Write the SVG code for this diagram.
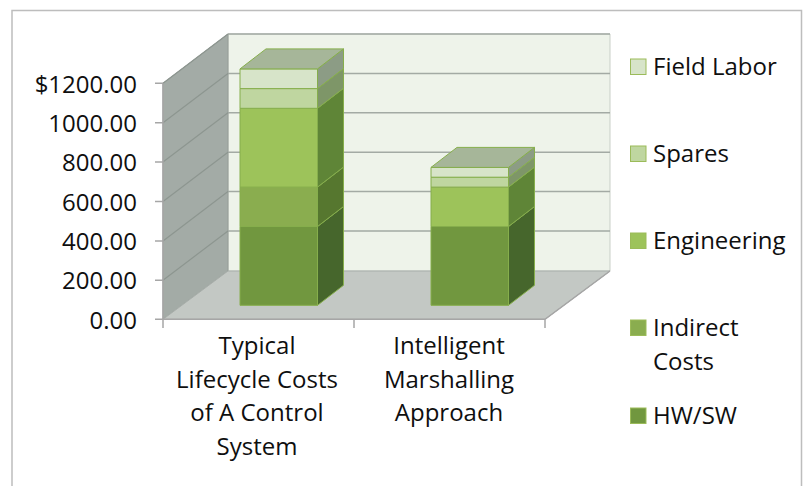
<svg xmlns="http://www.w3.org/2000/svg" width="803" height="486" viewBox="0 0 803 486">
<style>
text{font-family:"Open Sans","Noto Sans","Liberation Sans",sans-serif;font-size:24px;fill:#0f0f0f}
.ax{text-anchor:end}
.cat{text-anchor:middle}
.grid{stroke:#a3aaa4;stroke-width:1.5;fill:none}
.lgrid{stroke:#8d9690;stroke-width:1.2;fill:none}
.axis{stroke:#a6a6a6;stroke-width:1.5;fill:none}
.seg{stroke:#86ae4c;stroke-width:1;stroke-linejoin:round}
.hw{fill:#71973f}.hws{fill:#46662c}
.ind{fill:#8aad4f}.inds{fill:#56772f}
.eng{fill:#9dc35a}.engs{fill:#5f8537}
.spa{fill:#bfd6a0}.spas{fill:#7e9668}
.fld{fill:#d7e4c9}.flds{fill:#8c9c85}
.top{fill:#a6b699}
.key{stroke:#9bbb59;stroke-width:1}
</style>
<rect width="803" height="486" fill="#ffffff"/>
<path d="M12 486V10.5H801.5V486" fill="none" stroke="#bdbdbd" stroke-width="1.5"/>
<g id="plot-walls">
<polygon points="228,34 610,34 610,271 228,271" fill="#eef3ea" stroke="#c9cfc8" stroke-width="1"/>
<polygon points="163,83.3 228,34 228,271 163,319.3" fill="#a3aba6" stroke="#959d98" stroke-width="1"/>
<polygon points="163,319.3 228,271 610,271 545,319.3" fill="#c3c8c4" stroke="#a8aeaa" stroke-width="1"/>
</g>
<g id="gridlines">
<path class="grid" d="M228 34H610M228 73.4H610M228 112.8H610M228 152.2H610M228 191.6H610M228 231H610"/>
<path class="lgrid" d="M163 83.3L228 34M163 122.7L228 73.4M163 162.1L228 112.8M163 201.5L228 152.2M163 240.9L228 191.6M163 280.2L228 231"/>
</g>
<g id="axes">
<path class="axis" d="M163 83.3V319.3M155 83.3H163M155 122.7H163M155 162.1H163M155 201.5H163M155 240.9H163M155 280.2H163M155 319.3H545L610 271M163 319.3V328M354 319.3V328M545 319.3V328"/>
</g>
<g id="y-labels">
<text class="ax" x="137" y="92.5">$1200.00</text>
<text class="ax" x="137" y="131.9">1000.00</text>
<text class="ax" x="137" y="171.3">800.00</text>
<text class="ax" x="137" y="210.7">600.00</text>
<text class="ax" x="137" y="250.1">400.00</text>
<text class="ax" x="137" y="289.4">200.00</text>
<text class="ax" x="137" y="328.6">0.00</text>
</g>
<g id="bar-typical">
<g id="bar1-hwsw"><rect class="seg hw" x="240" y="226.5" width="77.5" height="78.8"/><polygon class="seg hws" points="317.5,226.5 343.5,206.5 343.5,285.3 317.5,305.3"/></g>
<g id="bar1-indirect"><rect class="seg ind" x="240" y="187.1" width="77.5" height="39.4"/><polygon class="seg inds" points="317.5,187.1 343.5,167.1 343.5,206.5 317.5,226.5"/></g>
<g id="bar1-engineering"><rect class="seg eng" x="240" y="108.3" width="77.5" height="78.8"/><polygon class="seg engs" points="317.5,108.3 343.5,88.3 343.5,167.1 317.5,187.1"/></g>
<g id="bar1-spares"><rect class="seg spa" x="240" y="88.6" width="77.5" height="19.7"/><polygon class="seg spas" points="317.5,88.6 343.5,68.6 343.5,88.3 317.5,108.3"/></g>
<g id="bar1-fieldlabor"><rect class="seg fld" x="240" y="68.9" width="77.5" height="19.7"/><polygon class="seg flds" points="317.5,68.9 343.5,48.9 343.5,68.6 317.5,88.6"/><polygon class="seg top" points="240,68.9 266,48.9 343.5,48.9 317.5,68.9"/></g>
</g>
<g id="bar-intelligent">
<g id="bar2-hwsw"><rect class="seg hw" x="431" y="226.5" width="77.5" height="78.8"/><polygon class="seg hws" points="508.5,226.5 534.5,206.5 534.5,285.3 508.5,305.3"/></g>
<g id="bar2-engineering"><rect class="seg eng" x="431" y="187.1" width="77.5" height="39.4"/><polygon class="seg engs" points="508.5,187.1 534.5,167.1 534.5,206.5 508.5,226.5"/></g>
<g id="bar2-spares"><rect class="seg spa" x="431" y="177.2" width="77.5" height="9.9"/><polygon class="seg spas" points="508.5,177.2 534.5,157.2 534.5,167.1 508.5,187.1"/></g>
<g id="bar2-fieldlabor"><rect class="seg fld" x="431" y="167.4" width="77.5" height="9.8"/><polygon class="seg flds" points="508.5,167.4 534.5,147.4 534.5,157.2 508.5,177.2"/><polygon class="seg top" points="431,167.4 457,147.4 534.5,147.4 508.5,167.4"/></g>
</g>
<g id="x-labels">
<text class="cat" x="257"><tspan x="257" y="353.5">Typical</tspan><tspan x="257" y="387.5">Lifecycle Costs</tspan><tspan x="257" y="421">of A Control</tspan><tspan x="257" y="455">System</tspan></text>
<text class="cat" x="449"><tspan x="449" y="353.5">Intelligent</tspan><tspan x="449" y="387.5">Marshalling</tspan><tspan x="449" y="421">Approach</tspan></text>
</g>
<g id="legend">
<g id="legend-fieldlabor"><rect class="key" x="630.5" y="59" width="15.5" height="15.5" fill="#d7e4c9"/><text x="653" y="74.5">Field Labor</text></g>
<g id="legend-spares"><rect class="key" x="630.5" y="146" width="15.5" height="15.5" fill="#bfd6a0"/><text x="653" y="161.5">Spares</text></g>
<g id="legend-engineering"><rect class="key" x="630.5" y="233" width="15.5" height="15.5" fill="#9dc35a"/><text x="653" y="248.5">Engineering</text></g>
<g id="legend-indirect"><rect class="key" x="630.5" y="320" width="15.5" height="15.5" fill="#8aad4f"/><text x="653" y="335.5">Indirect</text><text x="653" y="370">Costs</text></g>
<g id="legend-hwsw"><rect class="key" x="630.5" y="408" width="15.5" height="15.5" fill="#71973f"/><text x="653" y="423.5">HW/SW</text></g>
</g>
</svg>
